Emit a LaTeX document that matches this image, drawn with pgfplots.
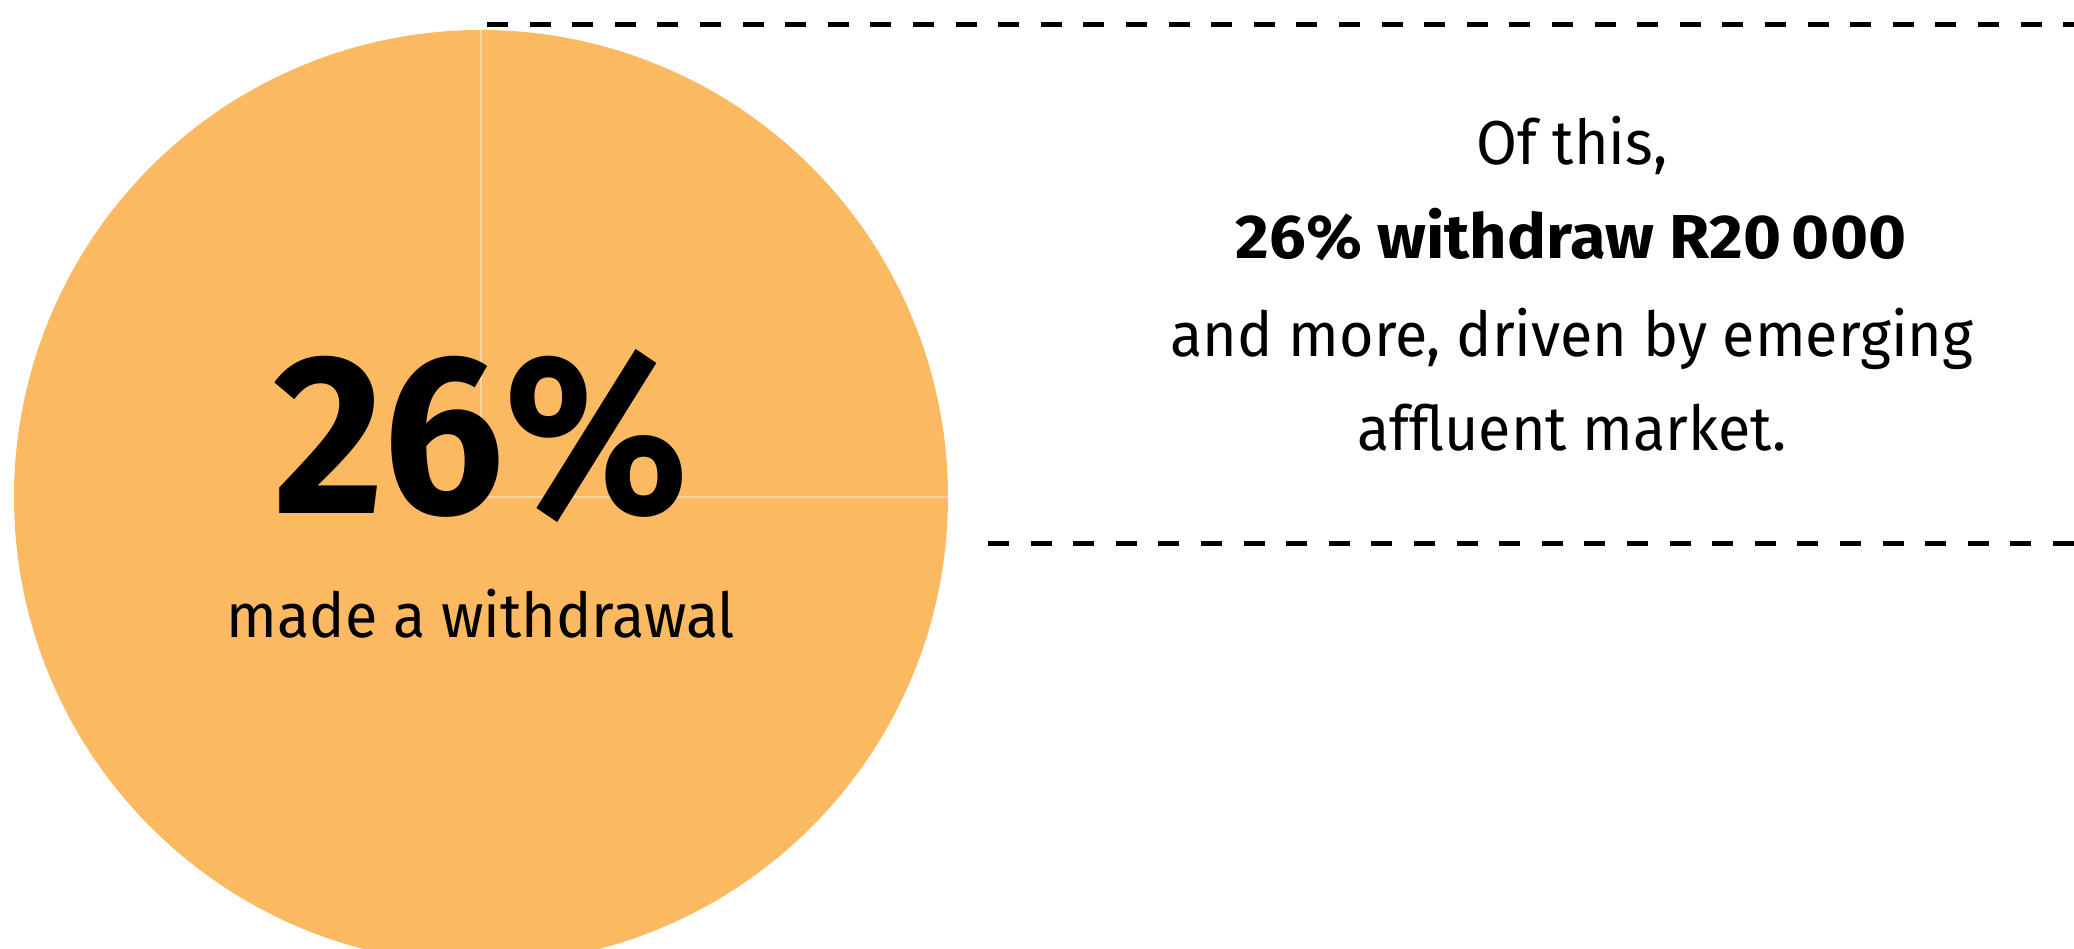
\documentclass[border=0pt]{standalone}
\usepackage{pgfplots}
\pgfplotsset{compat=1.18}
\usepackage{fontspec}
\setmainfont{Fira Sans}[FakeStretch=0.955]
\newfontfamily\boldwide{Fira Sans Bold}[FakeStretch=1.05]
\newfontfamily\bigbold{Fira Sans Bold}[FakeStretch=0.94]
\definecolor{pieorange}{RGB}{251,185,98}
\definecolor{pieline}{RGB}{252,214,160}

% pie data (share of respondents, %)
\def\sliceA{25}% made a withdrawal (drawn slice)
\def\sliceB{75}% rest
\pgfmathsetmacro{\angStart}{90}
\pgfmathsetmacro{\angMid}{90-3.6*\sliceA}
\pgfmathsetmacro{\angEnd}{\angMid-3.6*\sliceB}

\begin{document}
\begin{tikzpicture}
\useasboundingbox (0,0) rectangle (518.5pt,237.25pt);
\clip (0,0) rectangle (518.5pt,237.25pt);
\begin{axis}[at={(0,0)}, anchor=south west, scale only axis,
  width=518.5pt, height=237.25pt,
  xmin=0, xmax=2074, ymin=0, ymax=949,
  hide axis, clip=false]
% pie
\fill[pieorange] (axis cs:481,452) -- ++(\angStart:116.75pt) arc[start angle=\angStart, end angle=\angMid, radius=116.75pt] -- cycle;
\fill[pieorange] (axis cs:481,452) -- ++(\angMid:116.75pt) arc[start angle=\angMid, end angle=\angEnd, radius=116.75pt] -- cycle;
\draw[pieline, line width=0.3pt] (axis cs:481,452) -- ++(\angStart:116.75pt);
\draw[pieline, line width=0.3pt] (axis cs:481,452) -- ++(\angMid:116.75pt);
% dashed rules
\draw[black, line width=1.25pt, dash pattern=on 5.25pt off 5.4pt] (axis cs:487,924) -- (axis cs:2074,924);
\draw[black, line width=1.25pt, dash pattern=on 5.25pt off 5.4pt] (axis cs:988,405) -- (axis cs:2074,405);
% labels on pie
\node[anchor=base, inner sep=0pt, font=\fontsize{57}{60}\bigbold] at (axis cs:481,435) {26\%};
\node[anchor=base, inner sep=0pt, font=\fontsize{15.5}{18}\selectfont] at (axis cs:481,311) {made a withdrawal};
% right text
\node[anchor=base, inner sep=0pt, font=\fontsize{15.5}{18}\selectfont] at (axis cs:1572,784) {Of this,};
\node[anchor=base, inner sep=0pt, font=\fontsize{15.5}{18}\boldwide] at (axis cs:1571,690) {26\% withdraw R20\,000};
\node[anchor=base, inner sep=0pt, font=\fontsize{15.5}{18}\selectfont] at (axis cs:1572,592) {and more, driven by emerging};
\node[anchor=base, inner sep=0pt, font=\fontsize{15.5}{18}\selectfont] at (axis cs:1572,498) {affluent market.};
\end{axis}
\end{tikzpicture}
\end{document}
